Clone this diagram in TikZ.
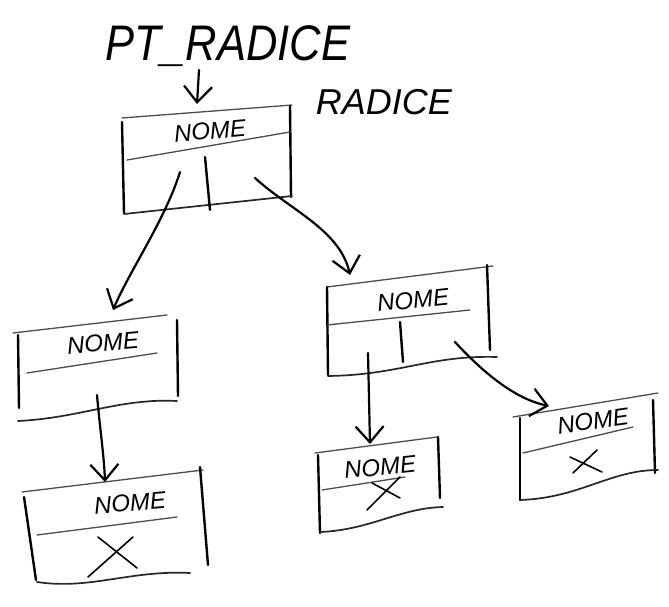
\documentclass[tikz,border=0pt]{standalone}
\usepackage{fontspec}
\setmainfont{Liberation Sans}
\usetikzlibrary{arrows.meta}
\begin{document}
\begin{tikzpicture}[x=1pt,y=-1pt,
  wall/.style={line width=2.4pt, line cap=round},
  rim/.style={line width=1.3pt, black!70, line cap=round},
  base/.style={line width=1.7pt, black!85, line cap=round},
  ptr/.style={line width=2.2pt, line cap=round,
    -{Straight Barb[length=16pt,width=28pt,line width=2.2pt]}},
  lbl/.style={font=\itshape\fontsize{24}{24}\selectfont, inner sep=0pt},
  big/.style={font=\itshape\fontsize{50}{50}\selectfont, inner sep=0pt, xscale=0.87},
  cross/.style={line width=1.6pt, line cap=round}]
\useasboundingbox (0,0) rectangle (669,607);

% caption of the root pointer
\node[big] (ptname) at (228,46) {PT\_RADICE};
\node[font=\itshape\fontsize{36}{36}\selectfont, inner sep=0pt] (rootname) at (384,102) {RADICE};

% root node
\draw[rim]  (122,118) -- (292,105);
\draw[wall] (122,122) -- (124,213);
\draw[wall] (290,106) -- (291,197);
\draw[rim]  (127,160) -- (290,132);
\draw[base] (124,214) -- (292,196);
\draw[wall] (205,157) -- (210,210);
\node[lbl, rotate=5] (n1) at (210,131) {NOME};

% left child of the root
\draw[rim]  (13,333) -- (167,315);
\draw[wall] (18,335) -- (19,408);
\draw[wall] (177,320) -- (178,396);
\draw[rim]  (27,373) -- (157,353);
\draw[base] (18,421) .. controls (80,418) and (120,398) .. (177,401);
\node[lbl, rotate=5] (n2) at (103,343) {NOME};

% its only child (a leaf)
\draw[rim]  (22,492) -- (203,470);
\draw[wall] (24,497) -- (36,580);
\draw[wall] (200,467) -- (208,565);
\draw[rim]  (37,535) -- (177,517);
\draw[base] (37,582) .. controls (90,590) and (130,570) .. (190,573);
\node[lbl, rotate=5] (n3) at (130,503) {NOME};
\draw[cross] (98,537) -- (137,568);
\draw[cross] (133,537) -- (88,577);

% right child of the root
\draw[rim]  (327,287) -- (493,266);
\draw[wall] (327,287) -- (328,375);
\draw[wall] (487,265) -- (490,350);
\draw[rim]  (327,325) -- (470,310);
\draw[base] (328,376) .. controls (400,375) and (430,355) .. (497,357);
\draw[wall] (400,322) -- (403,362);
\node[lbl, rotate=6] (n4) at (413,300) {NOME};

% left leaf below it
\draw[rim]  (315,453) -- (437,437);
\draw[wall] (318,455) -- (320,533);
\draw[wall] (438,437) -- (440,498);
\draw[rim]  (322,490) -- (405,477);
\draw[base] (320,532) .. controls (370,530) and (400,508) .. (443,507);
\node[lbl, rotate=6] (n5) at (380,467) {NOME};
\draw[cross] (367,510) -- (400,477);
\draw[cross] (372,483) -- (400,498);

% right leaf below it
\draw[rim]  (513,417) -- (658,393);
\draw[wall] (520,418) -- (520,500);
\draw[wall] (653,400) -- (655,473);
\draw[rim]  (523,453) -- (633,427);
\draw[base] (520,500) .. controls (580,498) and (610,470) .. (658,470);
\node[lbl, rotate=8] (n6) at (593,421) {NOME};
\draw[cross] (570,457) -- (602,472);
\draw[cross] (597,450) -- (573,473);

% pointer slots and targets
\coordinate (pthead) at (199,70);
\coordinate (rootin) at (197,104);
\coordinate (r-lp) at (180,172);
\coordinate (r-rp) at (255,178);
\coordinate (c1in) at (113,310);
\coordinate (c2in) at (350,275);
\coordinate (c1p) at (97,395);
\coordinate (l1in) at (105,482);
\coordinate (c2lp) at (368,353);
\coordinate (c2rp) at (455,342);
\coordinate (l2in) at (370,444);
\coordinate (l3in) at (549,406);

% pointers
\draw[ptr] (pthead) -- (rootin);
\draw[ptr] (r-lp) .. controls (165,220) and (130,270) .. (c1in);
\draw[ptr] (r-rp) .. controls (290,210) and (340,230) .. (c2in);
\draw[ptr] (c1p) .. controls (100,430) and (104,455) .. (l1in);
\draw[ptr] (c2lp) -- (l2in);
\draw[ptr] (c2rp) .. controls (490,380) and (520,400) .. (l3in);
\end{tikzpicture}
\end{document}
